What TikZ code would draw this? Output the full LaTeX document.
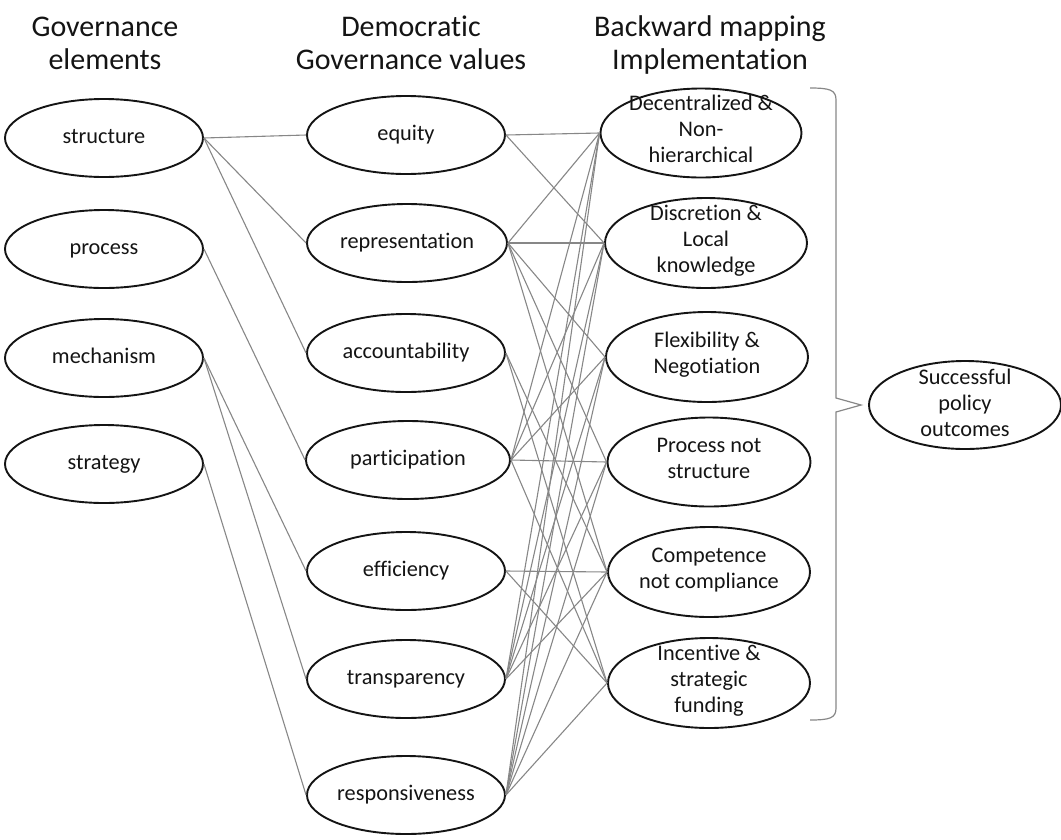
\documentclass[tikz,border=0pt]{standalone}
\usepackage{fontspec}
\setmainfont{Carlito}[Ligatures=NoCommon]
\usetikzlibrary{shapes.geometric}
\definecolor{ink}{RGB}{20,20,20}
\definecolor{wire}{RGB}{135,135,135}
\begin{document}
\begin{tikzpicture}[x=1pt,y=-1pt,
  ell/.style 2 args={draw=ink, line width=1.9pt, ellipse, inner sep=0pt, minimum width=#1, minimum height=#2},
  lbl/.style={font=\fontsize{22.3}{26}\selectfont, align=center, text=ink, inner sep=0pt},
  head/.style={font=\fontsize{30}{33}\selectfont, align=center, text=ink, inner sep=0pt, anchor=north},
  conn/.style={draw=wire, line width=1.1pt},
  brace/.style={draw=wire, line width=1.2pt}]
\useasboundingbox (0,0) rectangle (1061,839);
% headers
\node[head] (h1) at (105,13) {\strut Governance\\\strut elements};
\node[head] (h2) at (411,13) {\strut Democratic\\\strut Governance values};
\node[head] (h3) at (710,13) {\strut Backward mapping\\\strut Implementation};
% left column
\node[ell={198pt}{78pt}] (structure) at (104,138) {};
\node[ell={198pt}{78pt}] (process) at (104,249) {};
\node[ell={198pt}{78pt}] (mechanism) at (104,358) {};
\node[ell={198pt}{78pt}] (strategy) at (104,464) {};
\node[lbl] at (structure) {\strut structure};
\node[lbl] at (process) {\strut process};
\node[lbl] at (mechanism) {\strut mechanism};
\node[lbl] at (strategy) {\strut strategy};
% middle column
\node[ell={198pt}{78pt}] (equity) at (406,135) {};
\node[ell={200pt}{78pt}] (repr) at (407,243) {};
\node[ell={198pt}{78pt}] (account) at (406,353) {};
\node[ell={204pt}{78pt}] (partic) at (408,460) {};
\node[ell={198pt}{78pt}] (effic) at (406,571) {};
\node[ell={198pt}{78pt}] (transp) at (406,679) {};
\node[ell={198pt}{78pt}] (respon) at (406,795) {};
\node[lbl] at (equity) {\strut equity};
\node[lbl] at (repr) {\strut representation};
\node[lbl] at (account) {\strut accountability};
\node[lbl] at (partic) {\strut participation};
\node[lbl] at (effic) {\strut efficiency};
\node[lbl] at (transp) {\strut transparency};
\node[lbl] at (respon) {\strut responsiveness};
% right column
\node[ell={201pt}{89pt}] (dec) at (701,133) {};
\node[ell={202pt}{90pt}] (dis) at (706,243) {};
\node[ell={202pt}{90pt}] (flex) at (707,357) {};
\node[ell={203pt}{89pt}] (proc) at (709,462) {};
\node[ell={202pt}{90pt}] (comp) at (709,572) {};
\node[ell={202pt}{90pt}] (inc) at (709,683) {};
\node[lbl] at ([yshift=2pt]dec.center) {\strut Decentralized \&\\\strut Non-\\\strut hierarchical};
\node[lbl] at ([yshift=2pt]dis.center) {\strut Discretion \&\\\strut Local\\\strut knowledge};
\node[lbl] at ([yshift=2pt]flex.center) {\strut Flexibility \&\\\strut Negotiation};
\node[lbl] at ([yshift=2pt]proc.center) {\strut Process not\\\strut structure};
\node[lbl] at ([yshift=2pt]comp.center) {\strut Competence\\\strut not compliance};
\node[lbl] at ([yshift=2pt]inc.center) {\strut Incentive \&\\\strut strategic\\\strut funding};
% outcome
\node[ell={192pt}{88pt}] (out) at (965,405) {};
\node[lbl] at (out) {\strut Successful\\\strut policy\\\strut outcomes};
% brace
\coordinate (bt) at (810,88);
\coordinate (bb) at (810,720);
\coordinate (tip) at (out.west);
\draw[brace] (bt) .. controls (830,88) and (836,90) .. (836,100) -- (836,398) -- ([xshift=-7pt]tip) -- (836,412) -- (836,708) .. controls (836,718) and (830,720) .. (bb);
% left to middle
\draw[conn] (structure.east) -- (equity.west);
\draw[conn] (structure.east) -- (repr.west);
\draw[conn] (structure.east) -- (account.west);
\draw[conn] (process.east) -- (partic.west);
\draw[conn] (mechanism.east) -- (effic.west);
\draw[conn] (mechanism.east) -- (transp.west);
\draw[conn] (strategy.east) -- (respon.west);
% middle to right
\foreach \a/\b in {equity/dec, equity/dis,
  repr/dec, repr/dis, repr/flex, repr/proc, repr/comp,
  account/comp, account/inc,
  partic/dec, partic/dis, partic/flex, partic/proc, partic/inc,
  effic/comp, effic/inc,
  transp/dec, transp/dis, transp/flex, transp/proc, transp/comp,
  respon/dec, respon/dis, respon/flex, respon/proc, respon/comp, respon/inc}
  \draw[conn] (\a.east) -- (\b.west);
\end{tikzpicture}
\end{document}
